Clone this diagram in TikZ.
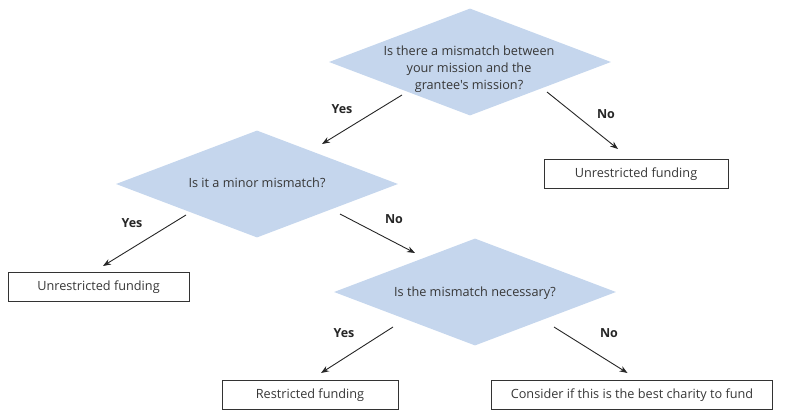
\documentclass[tikz,border=0pt]{standalone}
\usepackage{fontspec}
\setmainfont{Open Sans}[Ligatures=TeXOff]
\usetikzlibrary{shapes.geometric,arrows.meta,calc}
\definecolor{dfill}{RGB}{197,214,237}
\definecolor{txt}{RGB}{55,55,55}
\tikzset{
  decision/.style={shape=diamond, fill=dfill, draw=none, minimum width=282pt, minimum height=107pt, inner sep=0pt},
  dtext/.style={align=center, text=txt, font=\fontsize{12.7}{17}\selectfont},
  outcome/.style={draw=black!80, line width=0.7pt, minimum height=29pt, inner sep=0pt, text=txt, font=\fontsize{12.7}{14}\selectfont},
  arr/.style={-{Stealth[length=8pt,width=6pt]}, line width=0.9pt, black!85},
  lab/.style={font=\fontsize{12.5}{14}\selectfont\bfseries, text=black!85}
}
\begin{document}
\begin{tikzpicture}[x=1pt,y=-1pt]
\useasboundingbox (0,0) rectangle (805,412);
% decisions
\node[decision] (d1) at (470,62) {};
\node[dtext] (t1) at (469,69) {Is there a mismatch between\\your mission and the\\grantee's mission?};
\node[decision] (d2) at (257,184) {};
\node[dtext] (t2) at (257,183) {Is it a minor mismatch?};
\node[decision] (d3) at (475,292) {};
\node[dtext] (t3) at (475,293) {Is the mismatch necessary?};
% outcomes
\node[outcome, minimum width=184pt] (b1) at (636,174) {Unrestricted funding};
\node[outcome, minimum width=181pt] (b2) at (98.5,287) {Unrestricted funding};
\node[outcome, minimum width=176pt] (b3) at (310,395) {Restricted funding};
\node[outcome, minimum width=281pt] (b4) at (632,395) {Consider if this is the best charity to fund};
% connectors
\draw[arr] ($(d1)+(-68,33)$) -- ($(d2)+(65,-40)$);
\draw[arr] ($(d1)+(77,30)$) -- ($(b1)+(-18,-25)$);
\draw[arr] ($(d2)+(-71,31)$) -- ($(b2)+(4.5,-21)$);
\draw[arr] ($(d2)+(83,30)$) -- ($(d3)+(-60,-39)$);
\draw[arr] ($(d3)+(-82,35)$) -- ($(b3)+(11,-22)$);
\draw[arr] ($(d3)+(79,35)$) -- ($(b4)+(-4.5,-22)$);
% labels
\node[lab] (y1) at (342,109) {Yes};
\node[lab] (n1) at (606,114) {No};
\node[lab] (y2) at (132,223) {Yes};
\node[lab] (n2) at (394,219) {No};
\node[lab] (y3) at (344,333) {Yes};
\node[lab] (n3) at (609,333) {No};
\end{tikzpicture}
\end{document}
